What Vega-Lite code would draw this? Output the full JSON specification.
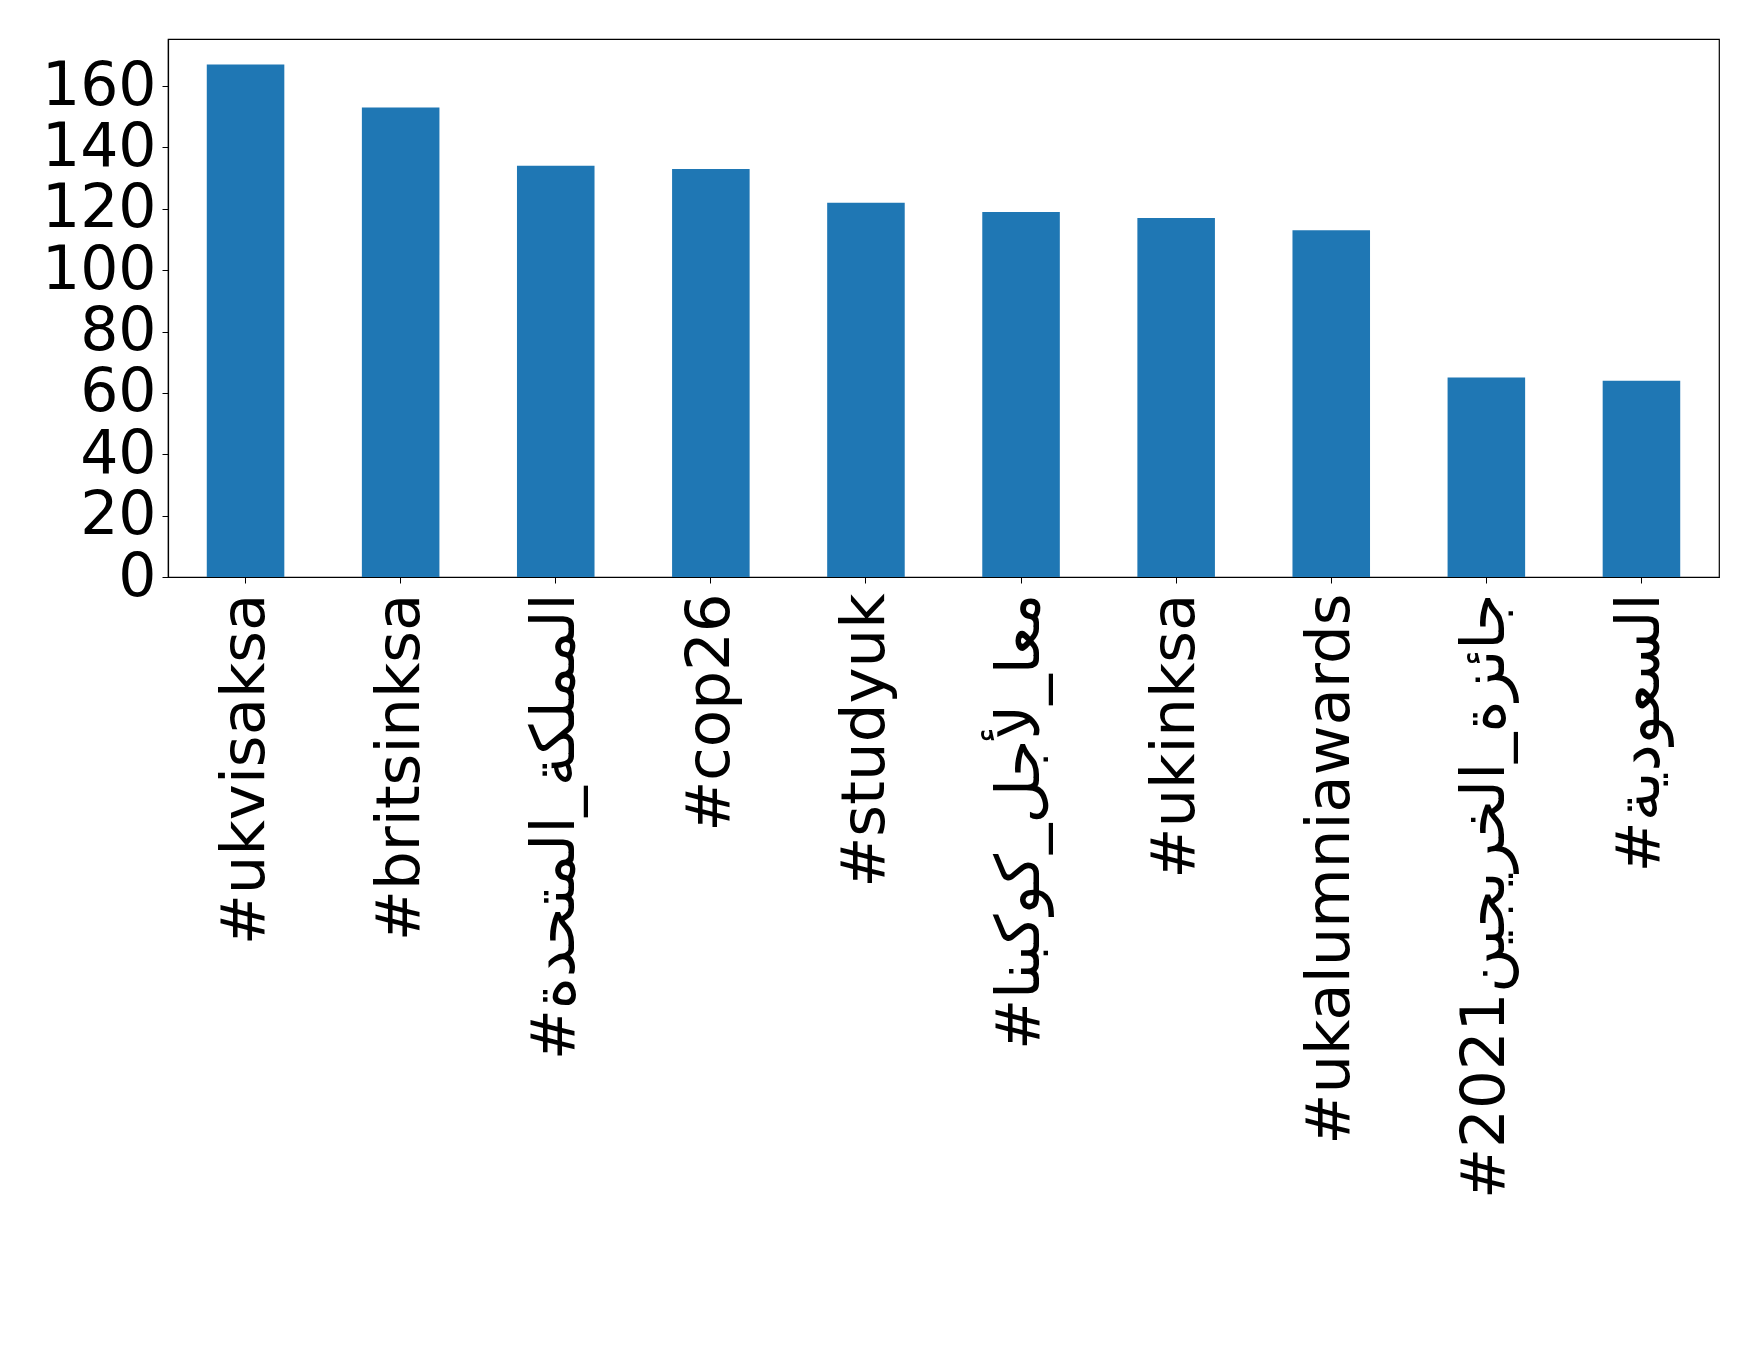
{
  "$schema": "https://vega.github.io/schema/vega-lite/v6.json",
  "autosize": {"type": "none"},
  "padding": {"left": 168, "top": 39, "right": 39, "bottom": 781},
  "width": 1551,
  "height": 538,
  "background": "white",
  "config": {
    "view": {"stroke": "black", "strokeWidth": 1.2},
    "font": "DejaVu Sans"
  },
  "data": {
    "values": [
      {"hashtag": "#ukvisaksa", "count": 167},
      {"hashtag": "#britsinksa", "count": 153},
      {"hashtag": "#المملكة_المتحدة", "count": 134},
      {"hashtag": "#cop26", "count": 133},
      {"hashtag": "#studyuk", "count": 122},
      {"hashtag": "#معا_لأجل_كوكبنا", "count": 119},
      {"hashtag": "#ukinksa", "count": 117},
      {"hashtag": "#ukalumniawards", "count": 113},
      {"hashtag": "#جائزة_الخريجين2021", "count": 65},
      {"hashtag": "#السعودية", "count": 64}
    ]
  },
  "mark": {"type": "bar", "color": "#1f77b4"},
  "encoding": {
    "x": {
      "field": "hashtag",
      "type": "nominal",
      "sort": null,
      "title": null,
      "scale": {"paddingInner": 0.5, "paddingOuter": 0.25},
      "axis": {
        "labelAngle": -90,
        "labelAlign": "right",
        "labelBaseline": "middle",
        "labelFontSize": 61,
        "labelColor": "black",
        "labelFont": "DejaVu Sans",
        "labelPadding": 10,
        "labelLimit": 0,
        "tickSize": 6,
        "tickColor": "black",
        "domainColor": "black",
        "domainWidth": 1.2,
        "grid": false
      }
    },
    "y": {
      "field": "count",
      "type": "quantitative",
      "title": null,
      "scale": {"domain": [0, 175.35], "nice": false, "zero": true},
      "axis": {
        "values": [0, 20, 40, 60, 80, 100, 120, 140, 160],
        "labelFontSize": 60,
        "labelColor": "black",
        "labelFont": "DejaVu Sans",
        "labelPadding": 6,
        "labelBaseline": "middle",
        "labelFlush": false,
        "labelOverlap": false,
        "tickSize": 6,
        "tickColor": "black",
        "domainColor": "black",
        "domainWidth": 1.2,
        "grid": false
      }
    }
  }
}
